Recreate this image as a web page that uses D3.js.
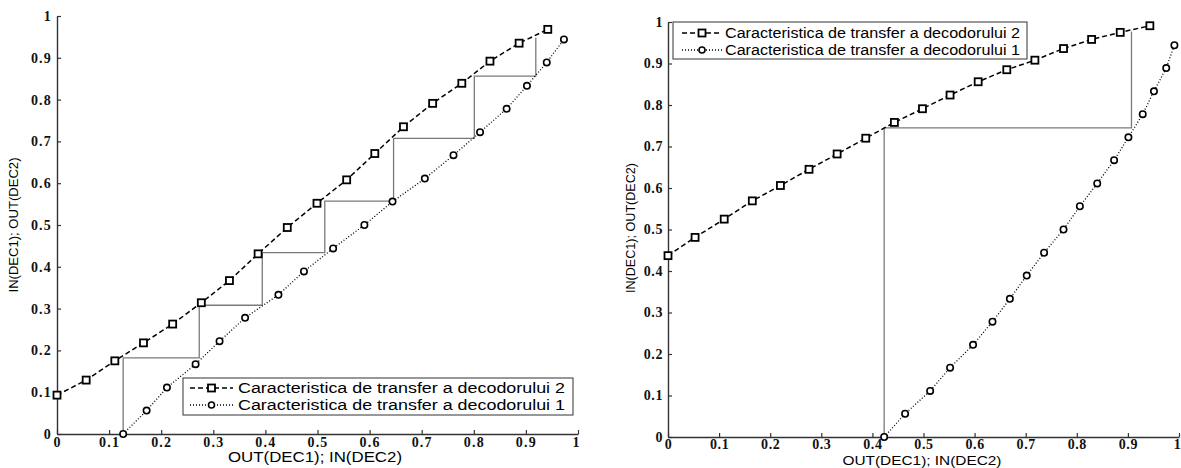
<!DOCTYPE html>
<html>
<head>
<meta charset="utf-8">
<script src="https://cdn.jsdelivr.net/npm/d3@7"></script>
<style>
  body { margin: 0; background: #fff; }
  svg { display: block; }
</style>
</head>
<body>
<div id="chart"></div>
<script>
// tick values and labels shared by both panels
const tickValues = [0, 0.1, 0.2, 0.3, 0.4, 0.5, 0.6, 0.7, 0.8, 0.9, 1];
const tickLabels = ["0", "0.1", "0.2", "0.3", "0.4", "0.5", "0.6", "0.7", "0.8", "0.9", "1"];

const legendLabels = [
  "Caracteristica de transfer a decodorului 2",
  "Caracteristica de transfer a decodorului 1"
];
const xLabel = "OUT(DEC1); IN(DEC2)";
const yLabel = "IN(DEC1); OUT(DEC2)";

// left panel
const leftDec2X = [0, 0.056, 0.111, 0.166, 0.222, 0.277, 0.331, 0.386, 0.442, 0.499, 0.556, 0.610, 0.665, 0.721, 0.777, 0.831, 0.887, 0.942];
const leftDec2Y = [0.093, 0.129, 0.175, 0.218, 0.263, 0.314, 0.367, 0.431, 0.494, 0.552, 0.608, 0.671, 0.735, 0.791, 0.839, 0.892, 0.935, 0.968];
const leftDec1X = [0.127, 0.172, 0.211, 0.266, 0.312, 0.361, 0.425, 0.474, 0.530, 0.590, 0.644, 0.706, 0.761, 0.812, 0.863, 0.902, 0.940, 0.973];
const leftDec1Y = [0, 0.056, 0.111, 0.167, 0.222, 0.278, 0.333, 0.389, 0.444, 0.5, 0.556, 0.611, 0.667, 0.722, 0.778, 0.833, 0.889, 0.944];
const leftStairX = [0.127, 0.127, 0.273, 0.273, 0.394, 0.394, 0.514, 0.514, 0.646, 0.646, 0.801, 0.801, 0.919, 0.919];
const leftStairY = [0, 0.182, 0.182, 0.308, 0.308, 0.434, 0.434, 0.557, 0.557, 0.707, 0.707, 0.856, 0.856, 0.948];

// right panel
const rightDec2X = [0, 0.053, 0.110, 0.165, 0.220, 0.276, 0.331, 0.387, 0.443, 0.498, 0.552, 0.607, 0.663, 0.718, 0.774, 0.829, 0.885, 0.943];
const rightDec2Y = [0.437, 0.481, 0.525, 0.569, 0.606, 0.645, 0.682, 0.720, 0.758, 0.791, 0.824, 0.856, 0.885, 0.908, 0.936, 0.958, 0.975, 0.991];
const rightDec1X = [0.423, 0.464, 0.513, 0.552, 0.597, 0.635, 0.669, 0.702, 0.736, 0.774, 0.806, 0.840, 0.873, 0.901, 0.929, 0.951, 0.975, 0.991];
const rightDec1Y = [0, 0.056, 0.111, 0.167, 0.222, 0.278, 0.333, 0.389, 0.444, 0.5, 0.556, 0.611, 0.667, 0.722, 0.778, 0.833, 0.889, 0.944];
const rightStairX = [0.423, 0.423, 0.907, 0.907];
const rightStairY = [0, 0.745, 0.745, 0.977];

const WIDTH = 1181;
const HEIGHT = 468;

const svg = d3.select("#chart").append("svg")
  .attr("width", WIDTH)
  .attr("height", HEIGHT);

function zip(xs, ys) {
  return xs.map((x, i) => ({ x: x, y: ys[i] }));
}

drawPanel({
  left: 57, right: 578, top: 16, bottom: 434,
  dec2: zip(leftDec2X, leftDec2Y),
  dec1: zip(leftDec1X, leftDec1Y),
  stair: zip(leftStairX, leftStairY),
  tickSpacing: 1.2,
  xPad: 3,
  legend: { x: 183, y: 378, w: 390, h: 37, lineX0: 190, lineX1: 233, textX: 238, textLen: 327, row1: 388, row2: 405 },
  xLabel: { cx: 315, y: 462, len: 174, size: 14.5 },
  yLabel: { x: 18, cy: 225, len: 135, size: 12 }
});

drawPanel({
  left: 668, right: 1179, top: 22, bottom: 437,
  dec2: zip(rightDec2X, rightDec2Y),
  dec1: zip(rightDec1X, rightDec1Y),
  stair: zip(rightStairX, rightStairY),
  tickSpacing: 0.6,
  xPad: 2,
  legend: { x: 673, y: 22, w: 354, h: 37, lineX0: 682, lineX1: 722, textX: 725, textLen: 295, row1: 33, row2: 50 },
  xLabel: { cx: 922, y: 465, len: 159, size: 13.5 },
  yLabel: { x: 635, cy: 228, len: 130, size: 12.5 }
});

function drawPanel(cfg) {
  const x = d3.scaleLinear().domain([0, 1]).range([cfg.left, cfg.right]);
  const y = d3.scaleLinear().domain([0, 1]).range([cfg.bottom, cfg.top]);
  const g = svg.append("g");

  const fmt = d => tickLabels[tickValues.indexOf(d)];

  const xAxis = g.append("g")
    .attr("transform", `translate(0,${cfg.bottom})`)
    .call(d3.axisBottom(x).tickValues(tickValues).tickFormat(fmt)
      .tickSizeInner(-4).tickSizeOuter(0).tickPadding(cfg.xPad));

  const yAxis = g.append("g")
    .attr("transform", `translate(${cfg.left},0)`)
    .call(d3.axisLeft(y).tickValues(tickValues).tickFormat(fmt)
      .tickSizeInner(-4).tickSizeOuter(0).tickPadding(5));

  [xAxis, yAxis].forEach(ax => {
    ax.attr("font-size", null);
    ax.select(".domain").attr("stroke", "#333").attr("stroke-width", 1.4);
    ax.selectAll(".tick line").attr("stroke", "#333").attr("stroke-width", 1.2);
    ax.selectAll(".tick text")
      .attr("fill", "#111")
      .style("font-family", "'Liberation Serif', 'DejaVu Serif', serif")
      .style("font-weight", "bold")
      .style("font-size", "14px")
      .style("letter-spacing", cfg.tickSpacing + "px");
  });

  // keep the last x label inside the picture
  xAxis.selectAll(".tick text").filter(d => d === 1).attr("dx", "-2");

  // staircase between the two characteristics
  g.append("path")
    .datum(cfg.stair)
    .attr("fill", "none")
    .attr("stroke", "#7a7a7a")
    .attr("stroke-width", 1.3)
    .attr("d", d3.line().x(d => x(d.x)).y(d => y(d.y)));

  const line = d3.line().x(d => x(d.x)).y(d => y(d.y));

  g.append("path")
    .datum(cfg.dec2)
    .attr("fill", "none")
    .attr("stroke", "#000")
    .attr("stroke-width", 1.5)
    .attr("stroke-dasharray", "5,3")
    .attr("d", line);

  g.append("path")
    .datum(cfg.dec1)
    .attr("fill", "none")
    .attr("stroke", "#000")
    .attr("stroke-width", 1.3)
    .attr("stroke-dasharray", "1,2")
    .attr("d", line);

  g.selectAll(".sq")
    .data(cfg.dec2)
    .enter()
    .append("rect")
    .attr("x", d => x(d.x) - 3.5)
    .attr("y", d => y(d.y) - 3.5)
    .attr("width", 7)
    .attr("height", 7)
    .attr("fill", "#fff")
    .attr("stroke", "#000")
    .attr("stroke-width", 1.8);

  g.selectAll(".ci")
    .data(cfg.dec1)
    .enter()
    .append("circle")
    .attr("cx", d => x(d.x))
    .attr("cy", d => y(d.y))
    .attr("r", 3.2)
    .attr("fill", "#fff")
    .attr("stroke", "#000")
    .attr("stroke-width", 1.6);

  // legend
  const lg = cfg.legend;
  g.append("rect")
    .attr("x", lg.x).attr("y", lg.y)
    .attr("width", lg.w).attr("height", lg.h)
    .attr("fill", "#fff")
    .attr("stroke", "#333")
    .attr("stroke-width", 1);

  const rows = [
    { label: legendLabels[0], y: lg.row1, dash: "5,3", marker: "square" },
    { label: legendLabels[1], y: lg.row2, dash: "1,2", marker: "circle" }
  ];
  const mid = (lg.lineX0 + lg.lineX1) / 2;
  rows.forEach(r => {
    g.append("line")
      .attr("x1", lg.lineX0).attr("x2", lg.lineX1)
      .attr("y1", r.y).attr("y2", r.y)
      .attr("stroke", "#000")
      .attr("stroke-width", 1.5)
      .attr("stroke-dasharray", r.dash);
    if (r.marker === "square") {
      g.append("rect")
        .attr("x", mid - 3.5).attr("y", r.y - 3.5)
        .attr("width", 7).attr("height", 7)
        .attr("fill", "#fff").attr("stroke", "#000").attr("stroke-width", 1.8);
    } else {
      g.append("circle")
        .attr("cx", mid).attr("cy", r.y).attr("r", 3)
        .attr("fill", "#fff").attr("stroke", "#000").attr("stroke-width", 1.6);
    }
    g.append("text")
      .attr("x", lg.textX)
      .attr("y", r.y + 5)
      .attr("textLength", lg.textLen)
      .attr("lengthAdjust", "spacingAndGlyphs")
      .style("font-family", "'Liberation Sans', Arial, sans-serif")
      .style("font-size", "14px")
      .attr("fill", "#000")
      .text(r.label);
  });

  // axis labels
  g.append("text")
    .attr("x", cfg.xLabel.cx)
    .attr("y", cfg.xLabel.y)
    .attr("text-anchor", "middle")
    .attr("textLength", cfg.xLabel.len)
    .attr("lengthAdjust", "spacingAndGlyphs")
    .style("font-family", "'Liberation Sans', Arial, sans-serif")
    .style("font-size", cfg.xLabel.size + "px")
    .attr("fill", "#000")
    .text(xLabel);

  g.append("text")
    .attr("transform", `translate(${cfg.yLabel.x},${cfg.yLabel.cy}) rotate(-90)`)
    .attr("text-anchor", "middle")
    .attr("textLength", cfg.yLabel.len)
    .attr("lengthAdjust", "spacingAndGlyphs")
    .style("font-family", "'Liberation Sans', Arial, sans-serif")
    .style("font-size", cfg.yLabel.size + "px")
    .attr("fill", "#000")
    .text(yLabel);
}
</script>
</body>
</html>
